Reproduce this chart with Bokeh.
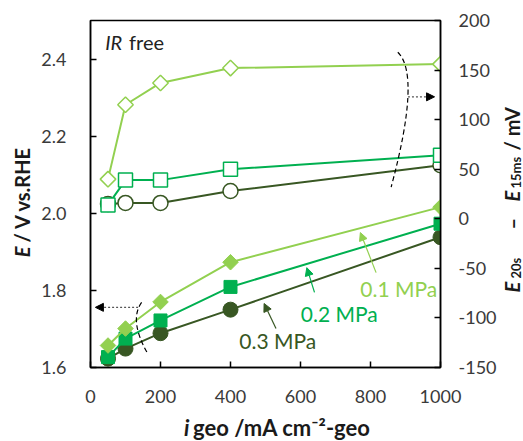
import math
from bokeh.plotting import figure
from bokeh.layouts import row, column
from bokeh.models import (Range1d, LinearAxis, FixedTicker, Label, Arrow, NormalHead,
                          PrintfTickFormatter)
from bokeh.embed import file_html
from bokeh.resources import INLINE

# ---------------- data ----------------
current = [50, 100, 200, 400, 1000]          # i geo / mA cm-2
E_01 = [1.657, 1.701, 1.770, 1.873, 2.016]   # 0.1 MPa, V vs RHE
E_02 = [1.627, 1.675, 1.722, 1.809, 1.973]   # 0.2 MPa
E_03 = [1.623, 1.649, 1.689, 1.750, 1.938]   # 0.3 MPa
dE_01 = [40, 115, 137, 152, 156]             # E20s - E15ms / mV
dE_02 = [14, 39, 39, 50, 64]
dE_03 = [15, 16, 16, 28, 54]
series_names = ["0.1 MPa", "0.2 MPa", "0.3 MPa"]
x_ticks = [0, 200, 400, 600, 800, 1000]
left_ticks = [1.6, 1.8, 2.0, 2.2, 2.4]
right_ticks = [-150, -100, -50, 0, 50, 100, 150, 200]

C1, C2, C3 = "#92d050", "#00b050", "#385723"
FONT = "Lato"
TICK_COLOR = "#3a3a3a"
TITLE_COLOR = "#1a1a1a"

# layout sizes (pixels)
W, H = 523, 441
LW, RW, BH = 35, 24, 28           # left-title, right-title, bottom-title strips
MW, MH = W - LW - RW, H - BH      # main figure

p = figure(width=MW, height=MH, output_backend="svg", toolbar_location=None,
           x_range=Range1d(0, 1000), y_range=Range1d(1.6, 2.5),
           min_border_left=55, min_border_right=56, min_border_top=20, min_border_bottom=46)
p.extra_y_ranges = {"r": Range1d(-150, 200)}
p.xgrid.visible = False
p.ygrid.visible = False
p.outline_line_color = "black"
p.outline_line_width = 1.5
p.background_fill_color = "white"
p.border_fill_color = "white"

def style_axis(ax, standoff):
    ax.axis_line_color = "black"
    ax.axis_line_width = 1.5
    ax.major_tick_in = 6
    ax.major_tick_out = 0
    ax.major_tick_line_color = "black"
    ax.major_tick_line_width = 1.5
    ax.minor_tick_line_color = None
    ax.major_label_text_font = FONT
    ax.major_label_text_font_size = "18px"
    ax.major_label_text_color = TICK_COLOR
    ax.major_label_standoff = standoff

xa = p.xaxis[0]
xa.ticker = FixedTicker(ticks=x_ticks)
style_axis(xa, 22)
ya = p.yaxis[0]
ya.ticker = FixedTicker(ticks=left_ticks)
ya.formatter = PrintfTickFormatter(format="%.1f")
style_axis(ya, 24)
ra = LinearAxis(y_range_name="r", ticker=FixedTicker(ticks=right_ticks),
                formatter=PrintfTickFormatter(format="%d"))
style_axis(ra, 18)
p.add_layout(ra, "right")

# ---------------- E20s - E15ms (open markers, right axis) ----------------
p.line(current, dE_03, y_range_name="r", line_color=C3, line_width=2)
p.scatter(current, dE_03, y_range_name="r", marker="circle", size=15,
          fill_color="white", line_color=C3, line_width=1.5)
p.line(current, dE_02, y_range_name="r", line_color=C2, line_width=2)
p.scatter(current, dE_02, y_range_name="r", marker="square", size=14,
          fill_color="white", line_color=C2, line_width=1.5)
p.line(current, dE_01, y_range_name="r", line_color=C1, line_width=2)
p.scatter(current, dE_01, y_range_name="r", marker="square", angle=math.pi / 4, size=11,
          fill_color="white", line_color=C1, line_width=1.5)

# ---------------- E (filled markers, left axis) ----------------
p.line(current, E_03, line_color=C3, line_width=2)
p.scatter(current, E_03, marker="circle", size=15, fill_color=C3, line_color=C3)
p.line(current, E_02, line_color=C2, line_width=2)
p.scatter(current, E_02, marker="square", size=13, fill_color=C2, line_color=C2)
p.line(current, E_01, line_color=C1, line_width=2)
p.scatter(current, E_01, marker="square", angle=math.pi / 4, size=11, fill_color=C1, line_color=C1)

# ---------------- guide curves and arrows ----------------
p.quadratic(x0=[146], y0=[1.769], x1=[161], y1=[1.640], cx=[110], cy=[1.723],
            line_color="black", line_width=1.2, line_dash="5 3")
p.add_layout(Arrow(x_start=136, y_start=1.756, x_end=14, y_end=1.756,
                   line_color="#555555", line_width=1.2, line_dash="2 2",
                   end=NormalHead(size=8, fill_color="black", line_color="black")))
p.quadratic(x0=[878], y0=[168], x1=[859], y1=[32], cx=[945], cy=[145],
            y_range_name="r", line_color="black", line_width=1.2, line_dash="5 3")
p.add_layout(Arrow(x_start=907, y_start=123, x_end=983, y_end=123, y_range_name="r",
                   line_color="#555555", line_width=1.2, line_dash="2 2",
                   end=NormalHead(size=8, fill_color="black", line_color="black")))

# series labels with pointer arrows
label_x = [771, 601, 425]
label_y = [1.805, 1.740, 1.670]
arrow_from = [(816, 1.846), (640, 1.795), (530, 1.701)]
arrow_to = [(771, 1.950), (618, 1.859), (496, 1.766)]
for name, lx, ly, a0, a1, col in zip(series_names, label_x, label_y, arrow_from, arrow_to, [C1, C2, C3]):
    p.add_layout(Label(x=lx, y=ly, text=name, text_font=FONT, text_font_size="21px",
                       text_color=col, text_baseline="middle", text_align="left"))
    p.add_layout(Arrow(x_start=a0[0], y_start=a0[1], x_end=a1[0], y_end=a1[1],
                       line_color=col, line_width=1.2,
                       end=NormalHead(size=8, fill_color=col, line_color=col)))

# "IR free"
p.add_layout(Label(x=42, y=2.443, text="IR", text_font=FONT, text_font_size="20px",
                   text_font_style="italic", text_color="#222222", text_baseline="middle"))
p.add_layout(Label(x=110, y=2.443, text="free", text_font=FONT, text_font_size="20px",
                   text_color="#222222", text_baseline="middle"))

# ---------------- title strips (pixel coordinates inside each strip) ----------------
def strip(w, h):
    f = figure(width=w, height=h, output_backend="svg", toolbar_location=None,
               x_range=Range1d(0, w), y_range=Range1d(0, h),
               x_axis_location=None, y_axis_location=None, min_border=0)
    f.xgrid.visible = False
    f.ygrid.visible = False
    f.outline_line_color = None
    f.background_fill_color = "white"
    f.border_fill_color = "white"
    return f

def piece(f, text, x, y, size, style="bold", angle=0.0, align="left"):
    f.add_layout(Label(x=x, y=y, text=text, text_font=FONT, text_font_size=f"{size}px",
                       text_font_style=style, text_color=TITLE_COLOR, angle=angle,
                       text_align=align, text_baseline="middle"))

R90 = math.pi / 2

# left title: "E / V vs.RHE" reading upwards, joined at one point
left_fig = strip(LW, H)
piece(left_fig, "E", 21, H - 246, 20, "bold italic", R90, "right")
piece(left_fig, "/ V vs.RHE", 21, H - 242, 20, "bold", R90, "left")

# right title: "E20s – E15ms / mV" reading upwards
right_fig = strip(RW, H)
piece(right_fig, "E", 12, H - 292, 20, "bold italic", R90)
piece(right_fig, "20s", 16, H - 278, 13, "bold", R90)
piece(right_fig, "\u2013", 12, H - 229, 20, "bold", R90)
piece(right_fig, "E", 12, H - 201, 20, "bold italic", R90)
piece(right_fig, "15ms", 16, H - 188, 13, "bold", R90)
piece(right_fig, "/ mV", 12, H - 150, 20, "bold", R90)

# bottom title: "i geo /mA cm-2-geo", joined at one point
bottom_fig = strip(MW, BH)
piece(bottom_fig, "i", 166 - LW, 14, 22, "bold italic", 0.0, "right")
piece(bottom_fig, "geo /mA cm\u207b\u00b2-geo", 171 - LW, 14, 22, "bold", 0.0, "left")

layout = row(left_fig, column(p, bottom_fig), right_fig)
open("out.html", "w").write(file_html(layout, INLINE))
